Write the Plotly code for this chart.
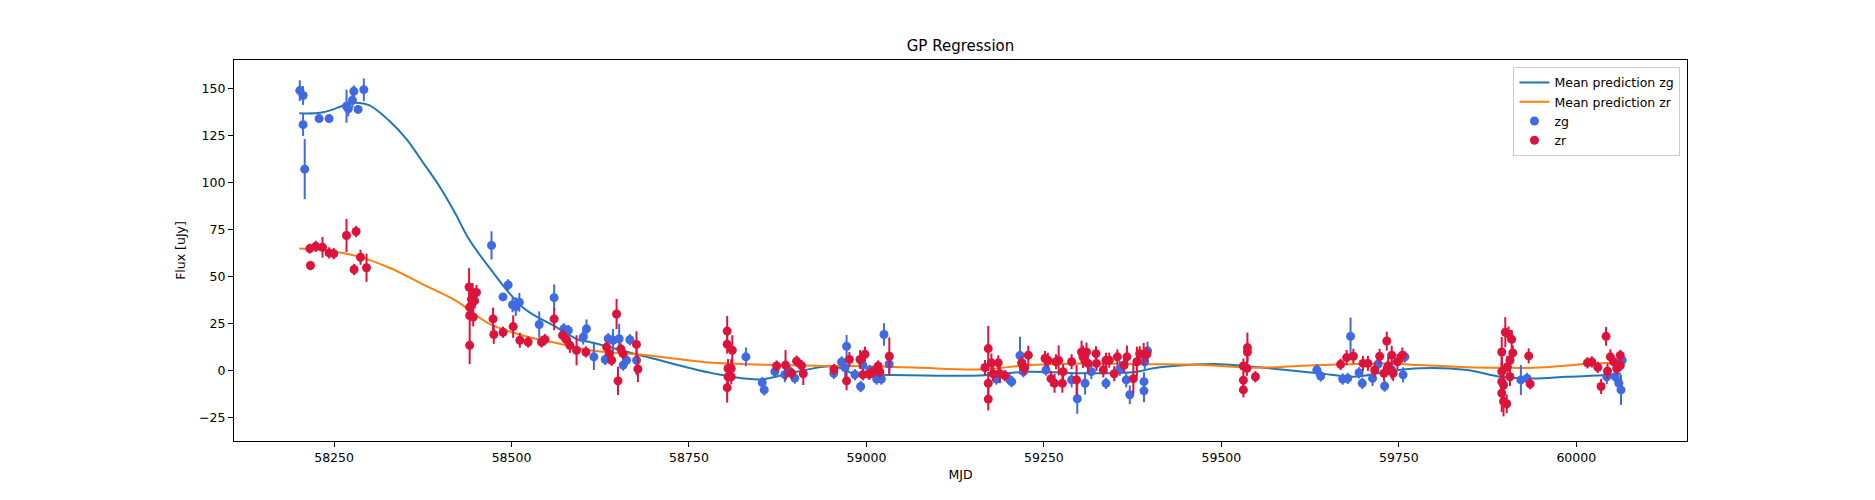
import plotly.graph_objects as go

# zg band observations (MJD, flux, error)
zg_mjd = [58201.7, 58206.3, 58206.3, 58208.6, 58228.9, 58243.0, 58267.5, 58270.0, 58275.9, 58277.8,
          58283.8, 58291.9, 58471.8, 58488.0, 58495.2, 58501.4, 58506.0, 58511.0, 58539.0, 58560.0,
          58573.6, 58580.0, 58600.9, 58605.6, 58616.0, 58632.0, 58636.2, 58643.0, 58651.6, 58657.3,
          58662.0, 58666.7, 58676.2, 58830.2, 58853.2, 58856.0, 58871.0, 58885.0, 58892.0, 58899.0,
          58954.0, 58965.0, 58970.0, 58972.0, 58983.8, 58991.8, 58995.0, 59005.0, 59014.4, 59021.0,
          59024.7, 59032.0, 59183.0, 59202.0, 59204.6, 59216.3, 59221.0, 59253.0, 59289.0, 59297.0,
          59308.0, 59316.8, 59337.5, 59357.0, 59366.0, 59371.0, 59391.0, 59391.0, 59392.0, 59396.0,
          59634.5, 59640.0, 59671.0, 59678.0, 59682.0, 59694.0, 59698.5, 59713.0, 59721.0, 59730.0,
          59740.0, 59756.0, 59758.6, 59922.0, 59930.6, 60043.0, 60055.0, 60060.0, 60063.0, 60064.7]
zg_flux = [149.1, 146.5, 131.0, 107.3, 134.2, 134.2, 140.8, 139.4, 144.0, 148.7,
           139.1, 149.6, 66.7, 39.3, 45.7, 35.1, 34.1, 36.4, 24.6, 38.9,
           22.3, 21.4, 17.9, 22.3, 7.4, 6.0, 17.0, 16.2, 17.0, 3.0,
           5.6, 16.5, 5.6, 7.4, -6.3, -10.2, -0.5, -2.1, -0.5, -3.9,
           -1.4, 4.7, 1.6, 13.0, -2.1, -8.4, 3.0, 0.1, -4.4, -4.4,
           19.3, 3.6, -4.4, -4.9, -5.8, 8.1, -0.5, 0.4, -4.9, -14.9,
           -6.7, -0.5, -6.7, 1.3, -4.9, -12.8, -5.8, -10.7, 4.8, 10.5,
           0.4, -2.8, -4.4, -4.1, 18.3, -1.1, -6.7, -4.1, 3.6, -8.1,
           0.4, -2.2, 7.4, -4.9, -4.1, -3.2, -3.2, -6.7, -10.2, 5.6]
zg_err = [5.5, 5, 6, 16, 1.5, 1.5, 8.8, 4, 4, 3.2,
          1.5, 6, 7.5, 2, 3, 4, 5, 5, 7, 7,
          3, 3, 4, 5, 7, 3, 3, 6, 8, 3,
          3, 3, 8, 5, 3, 3, 3, 4, 3, 3,
          3, 3, 5, 6, 3, 3, 4, 3, 3, 3,
          6, 5, 3, 3, 3, 10, 3, 3, 4, 8,
          6, 4, 3, 4, 4, 5, 5, 6, 4, 5,
          3, 3, 3, 3, 10, 3, 3, 4, 4, 3,
          5, 4, 3, 8, 3, 4, 3, 3, 8, 3]

# zr band observations
zr_mjd = [58215.8, 58216.7, 58224.2, 58233.7, 58243.0, 58249.6, 58267.5, 58278.2, 58281.0, 58287.2,
          58295.7, 58440.2, 58441.0, 58441.0, 58441.0, 58443.5, 58443.5, 58445.0, 58446.0, 58448.0,
          58450.6, 58474.0, 58475.0, 58488.0, 58502.3, 58511.7, 58523.4, 58542.3, 58547.0, 58560.0,
          58571.9, 58577.0, 58582.2, 58591.6, 58604.7, 58634.0, 58638.0, 58641.0, 58648.0, 58650.0,
          58654.0, 58657.0, 58676.0, 58678.0, 58803.8, 58803.8, 58811.0, 58805.0, 58809.5, 58805.0,
          58809.5, 58803.8, 58873.4, 58886.0, 58894.5, 58901.6, 58908.6, 58911.0, 58954.2, 58972.0,
          58976.0, 58991.0, 58995.0, 58997.9, 59004.0, 59010.0, 59016.5, 59018.8, 59032.2, 59167.0,
          59171.6, 59171.6, 59171.6, 59176.0, 59178.6, 59185.7, 59188.0, 59195.0, 59218.6, 59221.0,
          59223.0, 59228.0, 59251.6, 59255.6, 59260.0, 59265.0, 59267.0, 59270.8, 59276.0, 59277.0,
          59289.0, 59296.0, 59303.0, 59305.0, 59310.0, 59312.0, 59323.4, 59324.0, 59333.7, 59337.5,
          59342.0, 59349.0, 59353.5, 59363.0, 59367.0, 59376.0, 59381.0, 59385.0, 59390.6, 59395.0,
          59531.0, 59531.0, 59531.0, 59536.0, 59536.7, 59536.7, 59548.0, 59668.0, 59676.5, 59686.0,
          59699.5, 59706.5, 59716.0, 59723.0, 59729.0, 59733.0, 59735.0, 59740.0, 59742.0, 59748.0,
          59755.0, 59895.0, 59895.0, 59895.0, 59895.0, 59897.5, 59897.5, 59900.0, 59902.0, 59903.0,
          59904.6, 59906.6, 59906.6, 59909.0, 59910.6, 59933.0, 59935.0, 60015.8, 60022.0, 60030.4,
          60035.0, 60042.0, 60044.0, 60048.0, 60053.0, 60057.0, 60062.0, 60062.0]
zr_flux = [65.0, 56.0, 66.2, 65.7, 62.7, 62.3, 72.0, 53.9, 74.1, 60.4,
           54.8, 44.6, 13.5, 29.4, 33.8, 38.1, 35.0, 41.7, 28.6, 37.2,
           41.7, 27.6, 19.3, 20.5, 23.5, 16.2, 15.3, 15.3, 16.6, 27.6,
           18.8, 16.6, 13.5, 10.9, 10.0, 12.6, 9.1, 5.6, 30.2, -5.4,
           11.6, 9.1, 14.0, 0.9, 21.1, 14.1, 10.9, 1.2, 1.2, -3.2,
           -3.2, -9.0, 2.5, 3.0, -1.3, 5.1, 2.7, -1.6, 0.7, -5.4,
           6.0, 6.0, -2.1, 8.8, -1.9, -0.5, 2.5, -0.5, 7.7, 1.7,
           11.8, -6.7, -15.1, 4.2, -1.6, 4.2, -1.6, -2.6, 4.2, 2.1,
           1.6, 8.3, 6.5, 5.6, -4.2, -6.7, 4.8, 5.5, -6.7, -0.5,
           4.8, -4.9, 10.0, 7.4, 10.0, 3.9, 9.1, 3.9, 0.4, 5.6,
           5.6, -1.6, 7.4, 3.0, 7.4, -4.2, 4.8, 9.1, 8.8, 8.8,
           2.5, -5.0, -10.2, 1.3, 12.3, 10.0, -3.2, 3.4, 7.0, 7.7,
           3.9, 3.9, 0.4, 7.7, -1.4, 15.8, 2.6, 8.3, -1.4, 4.8,
           8.3, 10.0, -0.5, -5.8, -11.9, -16.3, -7.6, 20.5, -17.6, 2.1,
           19.6, 5.6, -3.2, 16.7, 9.5, 7.9, -7.0, 4.2, 4.7, 1.8,
           -8.4, 18.3, -0.2, 7.4, 4.7, 1.2, 8.1, 2.8]
zr_err = [2.6, 2.5, 3, 5.5, 3, 3, 8.8, 3, 3, 4,
          7.5, 10, 10, 6, 5, 5, 5, 5, 5, 4,
          4, 6, 5, 3, 6, 4, 3, 3, 3, 6,
          3, 3, 4, 8, 3, 3, 4, 3, 8, 7.5,
          3, 3, 7, 7, 8, 5, 8, 5, 5, 5,
          4, 8, 3, 8, 3, 3, 3, 6, 3, 5,
          4, 5, 3, 4, 3, 3, 3, 3, 10, 4,
          12, 6, 6, 5, 4, 4, 5, 3, 3, 4,
          4, 5, 4, 4, 4, 5, 4, 8, 5, 4,
          4, 8, 6, 6, 5, 5, 4, 4, 4, 4,
          4, 4, 4, 4, 6, 8, 8, 4, 6, 4,
          4, 4, 4, 4, 8, 5, 3, 3, 4, 4,
          4, 4, 4, 4, 4, 5, 5, 5, 4, 4,
          4, 8, 8, 10, 10, 8, 8, 8, 5, 6,
          4, 5, 5, 5, 4, 4, 3, 3, 3, 3,
          4, 5, 4, 4, 3, 3, 3, 3]

# GP mean predictions
gp_g_mjd = [58201, 58235, 58268, 58282, 58300, 58328, 58352, 58375, 58399, 58422, 58439, 58469,
            58516, 58563, 58596, 58610, 58690, 58784, 58850, 58902, 58954, 58987, 59019, 59160,
            59230, 59310, 59381, 59404, 59451, 59498, 59545, 59592, 59639, 59686, 59733, 59780,
            59846, 59893, 59940, 59987, 60043, 60063]
gp_g_flux = [137, 137.6, 141.7, 142.6, 141.2, 132.9, 123.3, 111, 97.8, 82.9, 70.6, 54.8,
             33.7, 23.2, 16.2, 15.3, 7.4, -1.4, -4.6, -0.5, 2.3, -2.1, -2.1, -2.6,
             -0.5, -1.4, -0.5, 1.3, 3.0, 3.5, 2.1, 0.4, -1.4, -3.2, -0.5, 1.3,
             0.4, -3.2, -4.1, -3.2, -2.3, -1.5]
gp_r_mjd = [58201, 58244, 58282, 58328, 58375, 58422, 58469, 58516, 58563, 58610, 58690, 58784,
            58878, 58972, 59066, 59160, 59230, 59310, 59404, 59475, 59545, 59639, 59733, 59780,
            59846, 59893, 59940, 59987, 60015, 60043, 60063]
gp_r_flux = [65.0, 63.7, 61.0, 54.8, 46.0, 37.2, 24.9, 18.8, 14.8, 10.9, 8.3, 4.2,
             3.0, 2.5, 1.7, 0.7, 3.0, 3.9, 3.5, 3.0, 1.6, 3.0, 3.9, 3.0,
             1.9, 1.6, 1.6, 2.8, 3.7, 4.1, 4.4]

FONT = "DejaVu Sans"

fig = go.Figure()
fig.add_trace(go.Scatter(x=gp_g_mjd, y=gp_g_flux, mode="lines", name="Mean prediction zg",
                         line=dict(color="#1f77b4", width=2, shape="spline")))
fig.add_trace(go.Scatter(x=gp_r_mjd, y=gp_r_flux, mode="lines", name="Mean prediction zr",
                         line=dict(color="#ff7f0e", width=2, shape="spline")))
fig.add_trace(go.Scatter(x=zg_mjd, y=zg_flux, mode="markers", name="zg",
                         marker=dict(color="royalblue", size=9),
                         error_y=dict(type="data", array=zg_err, color="royalblue",
                                      thickness=2, width=0)))
fig.add_trace(go.Scatter(x=zr_mjd, y=zr_flux, mode="markers", name="zr",
                         marker=dict(color="crimson", size=9),
                         error_y=dict(type="data", array=zr_err, color="crimson",
                                      thickness=2, width=0)))

axis_style = dict(showline=True, linecolor="black", linewidth=1.2, mirror=True,
                  ticks="outside", ticklen=5, tickcolor="black", showgrid=False,
                  zeroline=False, tickfont=dict(family=FONT, size=12.5, color="black"))

# page body has an 8px margin, so the figure is a bit smaller and margins shifted
fig.update_layout(
    width=1859, height=484,
    margin=dict(l=226, r=180, t=52, b=47),
    paper_bgcolor="white", plot_bgcolor="white",
    font=dict(family=FONT, size=12.5, color="black"),
    title=dict(text="GP Regression", x=0.5, xref="paper", xanchor="center",
               y=0.9215, yanchor="middle", font=dict(family=FONT, size=15, color="black")),
    xaxis=dict(range=[58109, 60156], tick0=58250, dtick=250, tickformat="d",
               title=dict(text="MJD", standoff=6, font=dict(size=12.5)), **axis_style),
    yaxis=dict(range=[-37.4, 165.4], tick0=0, dtick=25,
               title=dict(text="Flux [uJy]", standoff=10, font=dict(size=12.5)), **axis_style),
    legend=dict(x=0.9955, xanchor="right", y=0.982, yanchor="top",
                bgcolor="rgba(255,255,255,0.8)", bordercolor="#cccccc", borderwidth=1,
                font=dict(family=FONT, size=12.5), tracegroupgap=0),
    showlegend=True,
)

fig.write_html("out.html")
